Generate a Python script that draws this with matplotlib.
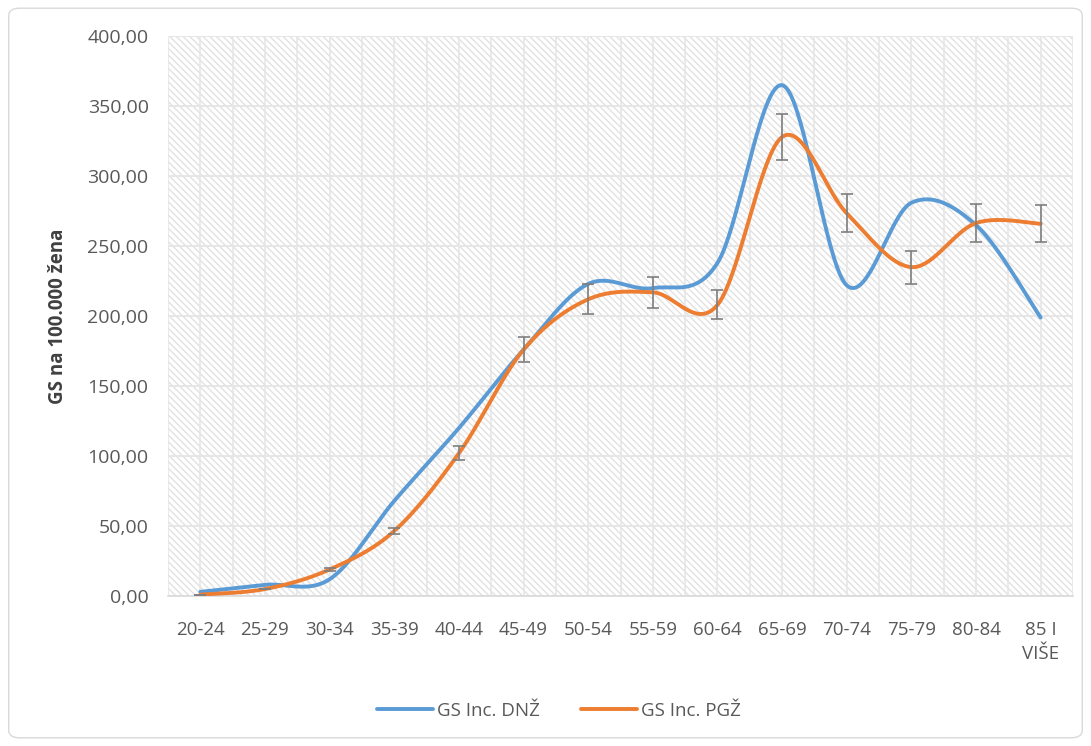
import matplotlib
matplotlib.use('Agg')
import matplotlib.pyplot as plt
import numpy as np
from matplotlib.patches import FancyBboxPatch, Rectangle
from matplotlib.ticker import FuncFormatter, MultipleLocator

categories = ['20-24', '25-29', '30-34', '35-39', '40-44', '45-49', '50-54',
              '55-59', '60-64', '65-69', '70-74', '75-79', '80-84', '85 I\nVIŠE']
dnz = [3, 8, 12, 68, 120, 176, 223, 220, 238, 365, 222, 281, 265, 199]
pgz = [1, 5, 19, 46.5, 102, 176, 212, 217, 208, 328, 273.5, 235, 266.5, 266]
pgz_err = [0.1, 0.3, 1.0, 2.3, 5.1, 8.8, 10.6, 10.9, 10.4, 16.4, 13.7, 11.8, 13.3, 13.3]

BLUE = '#5B9BD5'
ORANGE = '#ED7D31'
TXT = '#595959'


def smooth(y, n=40):
	# Excel-like smoothed line: cubic bezier with catmull-rom tangents
	x = np.arange(len(y), dtype=float)
	y = np.array(y, dtype=float)
	pts = np.column_stack([x, y])
	ext = np.vstack([pts[0], pts, pts[-1]])
	out = []
	t = np.linspace(0, 1, n)[:, None]
	for i in range(len(pts) - 1):
		p0 = ext[i + 1]
		p3 = ext[i + 2]
		p1 = p0 + (ext[i + 2] - ext[i]) / 6.
		p2 = p3 - (ext[i + 3] - ext[i + 1]) / 6.
		seg = (1 - t) ** 3 * p0 + 3 * (1 - t) ** 2 * t * p1 + 3 * (1 - t) * t ** 2 * p2 + t ** 3 * p3
		out.append(seg if i == 0 else seg[1:])
	out = np.vstack(out)
	return out[:, 0], out[:, 1]


plt.rcParams['font.family'] = ['Open Sans', 'DejaVu Sans']
plt.rcParams['hatch.linewidth'] = 1.0

fig = plt.figure(figsize=(10.91, 7.46), dpi=100)
fig.patches.append(FancyBboxPatch((0.008, 0.011), 0.984, 0.978,
	boxstyle='round,pad=0,rounding_size=0.01', transform=fig.transFigure,
	facecolor='white', edgecolor='#D9D9D9', linewidth=1.0, zorder=-10))

ax = fig.add_axes([0.154, 0.201, 0.8295, 0.7505])
ax.set_zorder(1)
ax.patch.set_alpha(0)
ax.set_xlim(-0.5, len(categories) - 0.5)
ax.set_ylim(0, 400)

# hatched plot area
ax.add_patch(Rectangle((0, 0), 1, 1, transform=ax.transAxes, facecolor='white',
	edgecolor='#E2E2E2', hatch='\\\\\\\\\\', linewidth=0, zorder=0))

for v in np.arange(-0.5, len(categories), 0.5):
	ax.axvline(v, color='#E6E6E6', linewidth=1.2, zorder=1)
ax.yaxis.set_major_locator(MultipleLocator(50))
ax.grid(axis='y', color='#E6E6E6', linewidth=1.4, zorder=1)
ax.set_axisbelow(True)

xs, ys = smooth(dnz)
ax.plot(xs, ys, color=BLUE, linewidth=2.8, solid_capstyle='round', zorder=3, label='GS Inc. DNŽ')
xs, ys = smooth(pgz)
ax.plot(xs, ys, color=ORANGE, linewidth=2.8, solid_capstyle='round', zorder=4, label='GS Inc. PGŽ')
ax.errorbar(np.arange(len(categories)), pgz, yerr=pgz_err, fmt='none', ecolor='#7F7F7F',
	elinewidth=1.2, capsize=4.5, capthick=1.2, zorder=5)

ax.set_xticks(np.arange(len(categories)))
ax.set_xticklabels(categories, fontsize=13.5, color=TXT, linespacing=1.45)
ax.yaxis.set_major_formatter(FuncFormatter(lambda v, p: ('%.2f' % v).replace('.', ',')))
ax.tick_params(axis='y', labelsize=14, labelcolor=TXT, length=0, pad=14)
ax.tick_params(axis='x', length=0, pad=18)
for s in ['top', 'right', 'left']:
	ax.spines[s].set_visible(False)
ax.spines['bottom'].set_color('#D9D9D9')
ax.spines['bottom'].set_linewidth(1.2)

ax.set_ylabel('GS na 100.000 žena', fontsize=13.5, fontweight='bold', color='#404040', labelpad=14)

fig.legend(loc='center', bbox_to_anchor=(0.512, 0.047), ncol=2, frameon=False,
	fontsize=13.5, labelcolor=TXT, handlelength=3.0, columnspacing=2.2, handletextpad=0.2)

fig.savefig('out.png', dpi=100)
